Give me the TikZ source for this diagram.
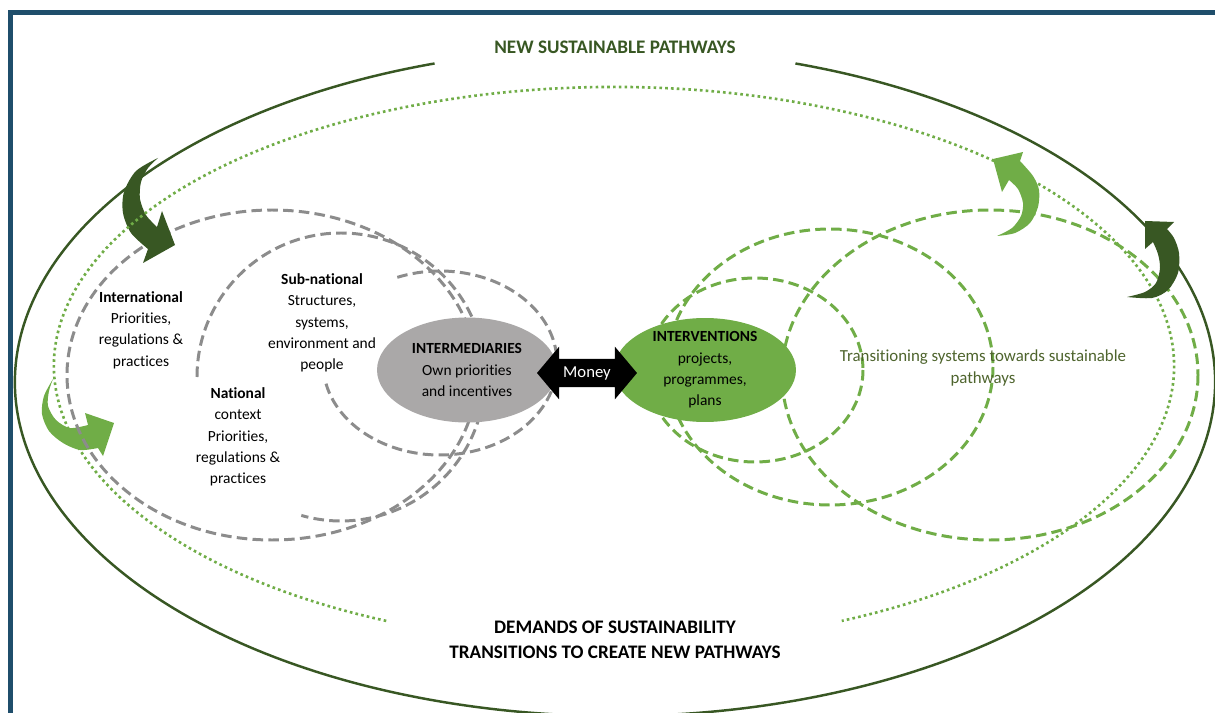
\documentclass[tikz,border=0pt]{standalone}
\usepackage{fontspec}
\setmainfont{Carlito}[Ligatures=NoCommon]
\usetikzlibrary{shapes.geometric,shapes.arrows}
\definecolor{darkgreen}{RGB}{56,87,35}
\definecolor{lightgreen}{RGB}{112,173,71}
\definecolor{textgreen}{RGB}{78,100,45}
\definecolor{dashgrey}{RGB}{140,140,140}
\definecolor{intgrey}{RGB}{170,168,168}
\definecolor{frameblue}{RGB}{31,78,107}
\tikzset{
    greydash/.style={draw=dashgrey, line width=1.7pt, dash pattern=on 6pt off 3pt},
    greendash/.style={draw=lightgreen, line width=1.7pt, dash pattern=on 6pt off 3pt},
    dotring/.style={draw=lightgreen, line width=1.5pt, dash pattern=on 1.5pt off 1.8pt},
    lbl/.style={align=center, font=\fontsize{8.8}{12.1}\selectfont},
    headline/.style={align=center, font=\fontsize{10.9}{14.2}\selectfont\bfseries},
}
\begin{document}
\begin{tikzpicture}[x=0.02cm,y=-0.02cm]
        \useasboundingbox (0,0) rectangle (1215,713);
        \clip (0,0) rectangle (1215,713);
        \draw[frameblue, line width=2.85pt] (10.5,12.5) rectangle (1240,740);
        \fill[lightgreen] plot[smooth] coordinates {(53,379) (44,396) (42,414) (49,431) (63,443) (80,450) (98,448)} -- (103,456) -- (114,423) -- (85,413) -- plot[smooth] coordinates {(88,425) (70,428) (56,420) (48,406) (49,391) (53,379)} -- cycle;
        \draw[greydash] (272,375) ellipse [x radius=205, y radius=165];
        \draw[greydash] (341,377) ++(180:144) arc[start angle=180, end angle=466, radius=144];
        \draw[greydash] (440,363) ++(167:117 and 92) arc[start angle=167, end angle=-114, x radius=117, y radius=92];
        \draw[greendash] (755,370) ellipse [x radius=108, y radius=92];
        \draw[greendash] (830,367) ellipse [x radius=163, y radius=138];
        \draw[greendash] (990,375) ellipse [x radius=208, y radius=165];
        \node[ellipse, fill=intgrey, minimum width=3.6cm, minimum height=2.1cm, lbl] (inter) at (467,370) {\textbf{INTERMEDIARIES}\\Own priorities\\and incentives};
        \node[ellipse, fill=lightgreen, minimum width=3.64cm, minimum height=2.08cm, inner xsep=0pt, inner ysep=-6pt, lbl] (interv) at (705,370) {\textbf{INTERVENTIONS}\\projects,\\programmes,\\plans};
        \node[double arrow, fill=black, text=white, font=\fontsize{9.5}{11}\selectfont, minimum height=2cm, double arrow head extend=7pt, double arrow tip angle=100, inner ysep=4pt, inner xsep=2pt] (money) at (587,373) {Money};
        \node[lbl] (intl) at (141,330) {\textbf{International}\\Priorities,\\regulations \&\\practices};
        \node[lbl] (natl) at (238,437) {\textbf{National}\\context\\Priorities,\\regulations \&\\practices};
        \node[lbl] (subnatl) at (322,323) {\textbf{Sub-national}\\Structures,\\systems,\\environment and\\people};
        \node[align=center, font=\fontsize{9.6}{13}\selectfont, text=textgreen] (trans) at (983,368) {Transitioning systems towards sustainable\\pathways};
        \node[headline, text=darkgreen] (newpath) at (615,47) {NEW SUSTAINABLE PATHWAYS};
        \node[headline] (demands) at (615,640) {DEMANDS OF SUSTAINABILITY\\TRANSITIONS TO CREATE NEW PATHWAYS};
        \fill[darkgreen] plot[smooth] coordinates {(158,158) (136,171) (124,192) (123,213) (131,233) (148,249)} -- (143,263) -- (175,245) -- (162,211) -- plot[smooth] coordinates {(157,227) (146,215) (140,199) (141,182) (148,168) (158,158)} -- cycle;
        \draw[dotring] (614,366) ++(114:560 and 279) arc[start angle=114, end angle=426, x radius=560, y radius=279];
        \draw[darkgreen, line width=1.4pt] (615,382) ++(287.5:600 and 334) arc[start angle=287.5, end angle=612.5, x radius=600, y radius=334];
        \fill[lightgreen] plot[smooth] coordinates {(997,236) (1015,233) (1030,223) (1038,207) (1039,190) (1033,176) (1020,161)} -- (1023,152) -- (993,159) -- (1002,192) -- plot[smooth] coordinates {(1009,180) (1018,189) (1023,203) (1021,216) (1012,228) (997,236)} -- cycle;
        \fill[darkgreen] plot[smooth] coordinates {(1127,297) (1152,298) (1168,290) (1178,273) (1179,253) (1174,238) (1167,229)} -- (1174,222) -- (1145,221) -- (1145,249) -- plot[smooth] coordinates {(1153,242) (1158,254) (1160,268) (1156,283) (1145,292) (1127,297)} -- cycle;
    \end{tikzpicture}
\end{document}
